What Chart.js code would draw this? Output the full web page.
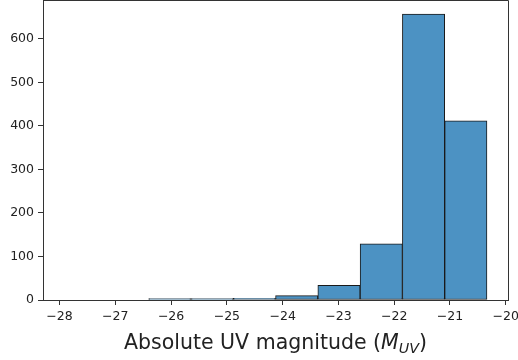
<!DOCTYPE html>
<html lang="en">
<head>
  <meta charset="UTF-8">
  <title>Absolute UV magnitude histogram</title>
  <script src="https://cdn.jsdelivr.net/npm/chart.js"></script>
  <style>
    html, body {
      margin: 0;
      padding: 0;
      background: #fff;
    }

    .wrap {
      width: 518px;
      height: 360px;
    }
  </style>
</head>
<body>
  <div class="wrap">
    <canvas id="magChart" width="518" height="360"></canvas>
  </div>

  <script>
    // histogram bins (magnitudes) and galaxy counts per bin
    const binEdges = [-27.917, -27.159, -26.401, -25.643, -24.885, -24.127, -23.369, -22.611, -21.853, -21.095, -20.337];
    const counts = [0, 0, 3, 3, 4, 10, 34, 129, 657, 412];
    const xTicks = [-28, -27, -26, -25, -24, -23, -22, -21, -20];
    const yTicks = [0, 100, 200, 300, 400, 500, 600];

    const bars = counts.map((c, i) => ({ x: (binEdges[i] + binEdges[i + 1]) / 2, y: c }));
    const edgeColor = "#1a1a1a";
    const axisColor = "#333";
    const textColor = "#222";
    const font = "DejaVu Sans";

    // top/right spines + x label with subscript
    const frame = {
      id: "frame",
      afterDraw(chart) {
        const { ctx, chartArea: a } = chart;
        ctx.save();
        ctx.strokeStyle = axisColor;
        ctx.lineWidth = 1;
        ctx.beginPath();
        ctx.moveTo(a.left, a.top + 0.5);
        ctx.lineTo(a.right + 0.5, a.top + 0.5);
        ctx.lineTo(a.right + 0.5, a.bottom);
        ctx.stroke();

        const parts = [
          { t: "Absolute UV magnitude (", f: "20.5px " + font, dy: 0 },
          { t: "M", f: "italic 20.5px " + font, dy: 0 },
          { t: "UV", f: "italic 14.3px " + font, dy: 4.5 },
          { t: ")", f: "20.5px " + font, dy: 0 },
        ];
        let total = 0;
        parts.forEach(p => { ctx.font = p.f; p.w = ctx.measureText(p.t).width; total += p.w; });
        let x = (a.left + a.right) / 2 - total / 2;
        const base = 348.5;
        ctx.fillStyle = textColor;
        ctx.textBaseline = "alphabetic";
        ctx.textAlign = "left";
        parts.forEach(p => {
          ctx.font = p.f;
          ctx.fillText(p.t, x, base + p.dy);
          x += p.w;
        });
        ctx.restore();
      }
    };

    const noPad = s => {
      s.paddingTop = 0;
      s.paddingBottom = 0;
      s.paddingLeft = 0;
      s.paddingRight = 0;
    };

    const ctx = document.getElementById("magChart").getContext("2d");
    new Chart(ctx, {
      type: "bar",
      data: {
        datasets: [{
          data: bars,
          backgroundColor: "rgb(76,146,195)",
          borderColor: edgeColor,
          borderWidth: 1,
          borderSkipped: false,
          barPercentage: 1,
          categoryPercentage: 1,
          grouped: false,
        }],
      },
      options: {
        responsive: false,
        animation: false,
        layout: {
          autoPadding: false,
          padding: { left: 0, right: 10, top: 0, bottom: 0 },
        },
        plugins: {
          legend: { display: false },
          tooltip: { enabled: false },
        },
        scales: {
          x: {
            type: "linear",
            offset: false,
            min: -28.296,
            max: -19.96,
            afterFit: s => { s.height = 60; noPad(s); },
            afterBuildTicks: s => { s.ticks = xTicks.map(v => ({ value: v })); },
            grid: { offset: false, drawOnChartArea: false, drawTicks: true, tickLength: 5, tickColor: axisColor },
            border: { display: true, color: axisColor, width: 1 },
            ticks: {
              autoSkip: false,
              maxRotation: 0,
              padding: 4,
              color: textColor,
              font: { family: font, size: 12.5 },
              callback: v => "\u2212" + Math.abs(v),
            },
          },
          y: {
            min: 0,
            max: 689.5,
            afterFit: s => { s.width = 43; noPad(s); },
            afterBuildTicks: s => { s.ticks = yTicks.map(v => ({ value: v })); },
            grid: { drawOnChartArea: false, drawTicks: true, tickLength: 5, tickColor: axisColor },
            border: { display: true, color: axisColor, width: 1 },
            ticks: {
              padding: 4,
              color: textColor,
              font: { family: font, size: 12.5 },
            },
          },
        },
      },
      plugins: [frame],
    });
  </script>
</body>
</html>
